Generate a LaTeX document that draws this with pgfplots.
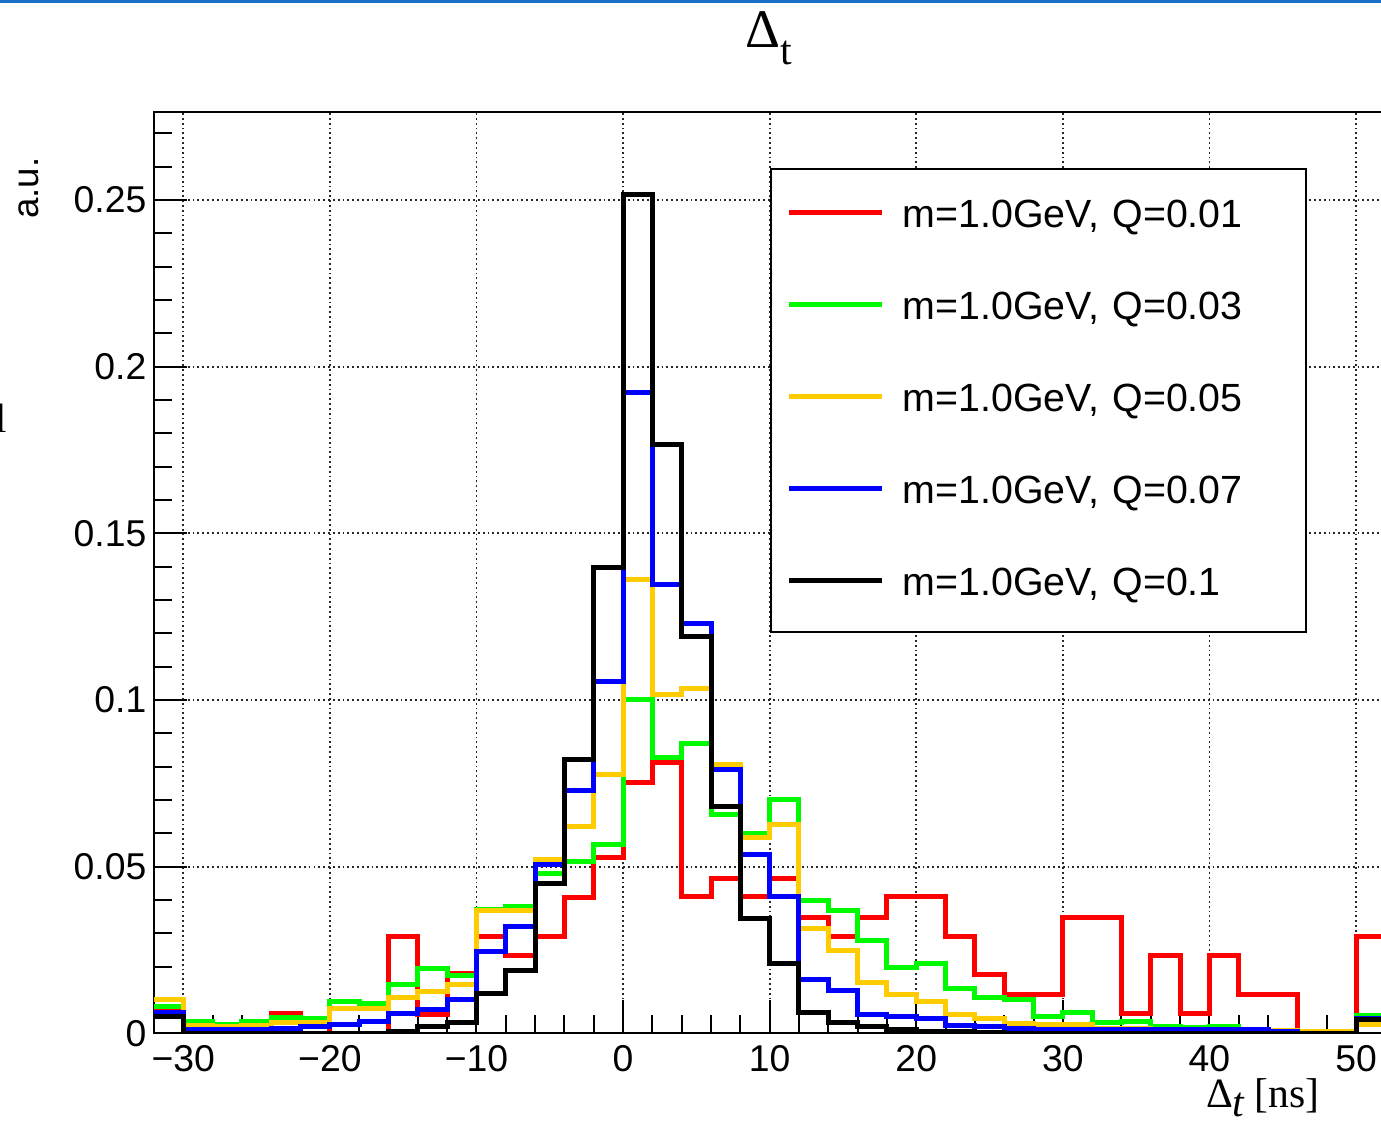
\documentclass[border=0pt]{standalone}
\usepackage{fontspec}
\setmainfont{Liberation Sans}
\newfontfamily\seriffont{Liberation Serif}
\usepackage{pgfplots}
\pgfplotsset{compat=1.18}
\definecolor{rootred}{RGB}{255,0,0}
\definecolor{rootgreen}{RGB}{0,250,0}
\definecolor{rootyellow}{RGB}{255,204,0}
\definecolor{rootblue}{RGB}{0,0,255}
\definecolor{topblue}{RGB}{25,110,200}
\begin{document}
\begin{tikzpicture}
\begin{axis}[
  name=ax,
  scale only axis,
  width=369.4pt, height=276.4pt,
  xmin=-32, xmax=52, ymin=0, ymax=0.2764,
  xtick={-30,-20,-10,0,10,20,30,40,50},
  xticklabels={−30,−20,−10,0,10,20,30,40,50},
  minor xtick={-32,-28,-26,-24,-22,-18,-16,-14,-12,-8,-6,-4,-2,2,4,6,8,12,14,16,18,22,24,26,28,32,34,36,38,42,44,46,48,52},
  ytick={0,0.05,0.1,0.15,0.2,0.25},
  yticklabels={0,0.05,0.1,0.15,0.2,0.25},
  minor ytick={0.01,0.02,0.03,0.04,0.06,0.07,0.08,0.09,0.11,0.12,0.13,0.14,0.16,0.17,0.18,0.19,0.21,0.22,0.23,0.24,0.26,0.27},
  tick pos=left, tick align=inside,
  major tick length=10pt, minor tick length=5.4pt,
  tick style={black, line width=0.6pt},
  axis line style={black, line width=0.6pt},
  xmajorgrids, ymajorgrids,
  major grid style={black!85, line width=0.55pt, dash pattern=on 0.55pt off 0.9pt},
  tick label style={font=\fontsize{11.2}{12}\selectfont},
  xticklabel style={inner sep=0pt, anchor=north, yshift=-3.4pt},
  yticklabel style={inner sep=0pt, anchor=east, xshift=-2.1pt},
  legend cell align=left,
  legend image code/.code={\draw[#1, line width=1.5pt] (0pt,1.2pt) -- (27.9pt,1.2pt);},
  legend style={at={(0.5002,0.9392)}, anchor=north west, draw=black, line width=0.6pt,
    fill=white, inner xsep=4.8pt, inner ysep=9.3pt, row sep=17.9pt, column sep=5.4pt,
    font=\fontsize{11.8}{13}\selectfont, nodes={inner sep=0pt},
    /tikz/every even column/.append style={text width=116.1pt}},
  every axis plot/.append style={line width=1.5pt, const plot mark left},
]
% Q=0.01
\addplot[rootred] coordinates {
(-32,0.0068) (-30,0.001) (-28,0.001) (-26,0.001) (-24,0.006) (-22,0.002) (-20,0) (-18,0)
(-16,0.029) (-14,0.0057) (-12,0.018) (-10,0.029) (-8,0.0233) (-6,0.029) (-4,0.0407) (-2,0.0527)
(0,0.0753) (2,0.0812) (4,0.041) (6,0.0465) (8,0.041) (10,0.0465) (12,0.0348) (14,0.029)
(16,0.0348) (18,0.041) (20,0.041) (22,0.029) (24,0.0177) (26,0.0115) (28,0.0115) (30,0.0348)
(32,0.0348) (34,0.006) (36,0.0233) (38,0.006) (40,0.0233) (42,0.0115) (44,0.0115) (46,0)
(48,0) (50,0.029) (52,0.029)};
\addlegendentry{m=1.0GeV, Q=0.01}
% Q=0.03
\addplot[rootgreen] coordinates {
(-32,0.008) (-30,0.0035) (-28,0.0025) (-26,0.0035) (-24,0.0047) (-22,0.0045) (-20,0.0095) (-18,0.009)
(-16,0.0147) (-14,0.0193) (-12,0.0173) (-10,0.037) (-8,0.038) (-6,0.048) (-4,0.0515) (-2,0.0567)
(0,0.100) (2,0.0828) (4,0.087) (6,0.0657) (8,0.060) (10,0.0702) (12,0.0398) (14,0.0368)
(16,0.0277) (18,0.0198) (20,0.021) (22,0.0133) (24,0.0108) (26,0.010) (28,0.005) (30,0.0062)
(32,0.0033) (34,0.0035) (36,0.002) (38,0.0017) (40,0.002) (42,0.0005) (44,0.0005) (46,0.0005)
(48,0.0005) (50,0.0052) (52,0.0052)};
\addlegendentry{m=1.0GeV, Q=0.03}
% Q=0.05
\addplot[rootyellow] coordinates {
(-32,0.010) (-30,0.0023) (-28,0.002) (-26,0.0023) (-24,0.0033) (-22,0.0033) (-20,0.0075) (-18,0.0075)
(-16,0.0108) (-14,0.0125) (-12,0.0145) (-10,0.0368) (-8,0.0368) (-6,0.052) (-4,0.062) (-2,0.0775)
(0,0.136) (2,0.1015) (4,0.1035) (6,0.0805) (8,0.0588) (10,0.0625) (12,0.0315) (14,0.0248)
(16,0.0152) (18,0.0115) (20,0.0095) (22,0.0055) (24,0.0045) (26,0.003) (28,0.0025) (30,0.0025)
(32,0.0015) (34,0.0015) (36,0.0012) (38,0.001) (40,0.001) (42,0.001) (44,0.0008) (46,0.0005)
(48,0.0005) (50,0.0027) (52,0.0027)};
\addlegendentry{m=1.0GeV, Q=0.05}
% Q=0.07
\addplot[rootblue] coordinates {
(-32,0.0062) (-30,0.0012) (-28,0.0012) (-26,0.001) (-24,0.0015) (-22,0.002) (-20,0.0027) (-18,0.0035)
(-16,0.006) (-14,0.007) (-12,0.010) (-10,0.0245) (-8,0.032) (-6,0.0505) (-4,0.0728) (-2,0.1055)
(0,0.1922) (2,0.1345) (4,0.1228) (6,0.079) (8,0.0535) (10,0.041) (12,0.016) (14,0.0127)
(16,0.0055) (18,0.005) (20,0.0045) (22,0.0022) (24,0.002) (26,0.0015) (28,0.001) (30,0.001)
(32,0.001) (34,0.001) (36,0.001) (38,0.001) (40,0.001) (42,0.001) (44,0.0005) (46,0)
(48,0) (50,0.0045) (52,0.0045)};
\addlegendentry{m=1.0GeV, Q=0.07}
% Q=0.1
\addplot[black] coordinates {
(-32,0.005) (-30,0) (-28,0) (-26,0) (-24,0) (-22,0) (-20,0) (-18,0)
(-16,0.0005) (-14,0.002) (-12,0.0032) (-10,0.012) (-8,0.0188) (-6,0.045) (-4,0.082) (-2,0.1397)
(0,0.2515) (2,0.1767) (4,0.119) (6,0.068) (8,0.0345) (10,0.021) (12,0.0062) (14,0.0033)
(16,0.002) (18,0.001) (20,0.0005) (22,0.0005) (24,0.0003) (26,0) (28,0) (30,0)
(32,0) (34,0) (36,0) (38,0) (40,0) (42,0) (44,0) (46,0)
(48,0) (50,0.004) (52,0.004)};
\addlegendentry{m=1.0GeV, Q=0.1}
\end{axis}
\pgfresetboundingbox
\path[use as bounding box] ([xshift=-46.2pt,yshift=-26.4pt]ax.south west) rectangle ([xshift=368.1pt,yshift=33.6pt]ax.north west);
\fill[topblue] ([xshift=-46.2pt,yshift=33.6pt]ax.north west) rectangle ([xshift=368.1pt,yshift=32.8pt]ax.north west);
% title
\node[anchor=base, inner sep=0pt, font=\seriffont\fontsize{16.3}{18}\selectfont] at ([xshift=184.5pt,yshift=19.2pt]ax.north west) {Δ\raisebox{-5pt}{\fontsize{12.5}{13}\selectfont t}};
% x label
\node[anchor=base east, inner sep=0pt, font=\seriffont\fontsize{12.5}{14}\selectfont] at ([xshift=349.9pt,yshift=-22.3pt]ax.south west) {Δ\raisebox{-2.7pt}{\itshape t} [ns]};
% y label
\node[rotate=90, anchor=base east, inner sep=0pt, font=\fontsize{11}{12}\selectfont] at ([xshift=-34.5pt,yshift=-13.5pt]ax.north west) {a.u.};
% stray glyph at the left edge
\node[anchor=base west, inner sep=0pt, font=\seriffont\fontsize{12.3}{13}\selectfont] at ([xshift=-47.6pt,yshift=-96.3pt]ax.north west) {l};
\end{tikzpicture}
\end{document}
